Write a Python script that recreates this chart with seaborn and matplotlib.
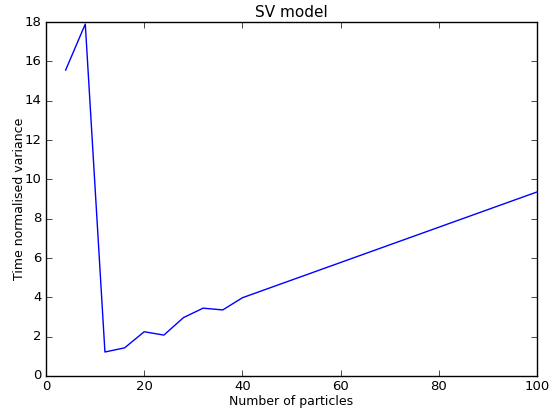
import matplotlib
matplotlib.use('Agg')
import matplotlib.pyplot as plt
import seaborn as sns
import pandas as pd

# particle counts and time-normalised variance
n_particles = [4, 8, 12, 16, 20, 24, 28, 32, 36, 40, 100]
variance = [15.56, 17.9, 1.22, 1.43, 2.25, 2.08, 2.97, 3.45, 3.36, 3.98, 9.36]

df = pd.DataFrame({'particles': n_particles, 'variance': variance})

plt.style.use('classic')
plt.rcParams['font.family'] = ['DejaVu Sans']
plt.rcParams['font.size'] = 9

fig = plt.figure(figsize=(5.51, 4.09), dpi=100, facecolor='white')
ax = fig.add_axes([0.0835, 0.0807, 0.8911, 0.8653])
sns.lineplot(data=df, x='particles', y='variance', ax=ax, color='b', linewidth=1)

ax.set_xlim(0, 100)
ax.set_ylim(0, 18)
ax.set_xticks(range(0, 101, 20))
ax.set_yticks(range(0, 19, 2))
ax.tick_params(labelsize=9.5, pad=3)
ax.set_xlabel('Number of particles', fontsize=9, labelpad=1)
ax.set_ylabel('Time normalised variance', fontsize=9, labelpad=-1)
ax.set_title('SV model', fontsize=11, pad=4)

fig.savefig('out.png', dpi=100, facecolor='white')
